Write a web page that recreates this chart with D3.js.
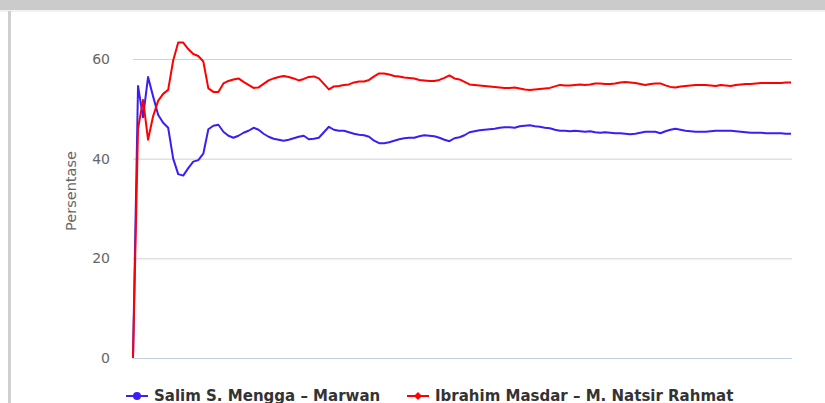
<!DOCTYPE html>
<meta charset="utf-8">
<head>
<title>Persentase</title>
<style>
  body { margin: 0; background: #fff; }
  .axis text { font: 14px "DejaVu Sans", Verdana, sans-serif; fill: #666; }
  .legend text { font: bold 15px "DejaVu Sans", Verdana, sans-serif; fill: #333; }
</style>
</head>
<body>
<script src="https://cdn.jsdelivr.net/npm/d3@7"></script>
<script>

// tick labels of the y axis
var yTicks = [0, 20, 40, 60];

var seriesNames = ["Salim S. Mengga \u2013 Marwan", "Ibrahim Masdar \u2013 M. Natsir Rahmat"];

// Salim S. Mengga - Marwan, percent per count step
var salim = [
  0, 54.6, 48.3, 56.4, 52.5, 48.8, 47.2, 46.2, 40.0, 36.9,
  36.6, 38.1, 39.4, 39.7, 41.0, 45.9, 46.6, 46.8, 45.4, 44.6,
  44.2, 44.6, 45.2, 45.6, 46.2, 45.8, 45.0, 44.4, 44.0, 43.8,
  43.6, 43.8, 44.1, 44.4, 44.6, 43.9, 44.0, 44.2, 45.3, 46.4,
  45.8, 45.6, 45.6, 45.3, 45.0, 44.8, 44.7, 44.4, 43.6, 43.1,
  43.1, 43.3, 43.6, 43.9, 44.1, 44.2, 44.2, 44.5, 44.7, 44.6,
  44.5, 44.2, 43.8, 43.5, 44.1, 44.3, 44.7, 45.3, 45.5, 45.7,
  45.8, 45.9, 46.0, 46.2, 46.3, 46.3, 46.2, 46.5, 46.6, 46.7,
  46.5, 46.4, 46.2, 46.1, 45.8, 45.6, 45.6, 45.5, 45.6, 45.5,
  45.4, 45.5, 45.3, 45.2, 45.3, 45.2, 45.1, 45.1, 45.0, 44.9,
  45.0, 45.2, 45.4, 45.4, 45.4, 45.1, 45.5, 45.8, 46.0, 45.8,
  45.6, 45.5, 45.4, 45.4, 45.4, 45.5, 45.6, 45.6, 45.6, 45.6,
  45.5, 45.4, 45.3, 45.2, 45.2, 45.2, 45.1, 45.1, 45.1, 45.1,
  45.0, 45.0
];

// Ibrahim Masdar - M. Natsir Rahmat
var ibrahim = [
  0, 46.0, 51.8, 43.8, 48.5, 51.6, 53.0, 53.8, 59.7, 63.3,
  63.3, 62.0, 61.0, 60.6, 59.5, 54.1, 53.4, 53.4, 55.1, 55.6,
  55.9, 56.1, 55.4, 54.8, 54.2, 54.3, 55.0, 55.7, 56.1, 56.4,
  56.6, 56.4, 56.1, 55.7, 56.0, 56.4, 56.5, 56.1, 55.0, 53.9,
  54.5, 54.6, 54.8, 54.9, 55.3, 55.5, 55.5, 55.8, 56.5, 57.1,
  57.1, 56.9, 56.6, 56.5, 56.3, 56.2, 56.1, 55.8, 55.7, 55.6,
  55.6, 55.8, 56.2, 56.7, 56.1, 55.9, 55.4, 54.9, 54.8, 54.7,
  54.6, 54.5, 54.4, 54.3, 54.2, 54.2, 54.3, 54.1, 53.9, 53.8,
  53.9, 54.0, 54.1, 54.2, 54.5, 54.8, 54.7, 54.7, 54.8, 54.9,
  54.8, 54.9, 55.1, 55.1, 55.0, 55.0, 55.1, 55.3, 55.4, 55.3,
  55.2, 55.0, 54.8, 55.0, 55.1, 55.1, 54.7, 54.4, 54.3, 54.5,
  54.6, 54.7, 54.8, 54.8, 54.8, 54.7, 54.6, 54.8, 54.7, 54.6,
  54.8, 54.9, 55.0, 55.0, 55.1, 55.2, 55.2, 55.2, 55.2, 55.2,
  55.3, 55.3
];

var colors = ["#3a1ff5", "#ff0000"];

var width = 825, height = 403;
var plotLeft = 133, plotRight = 792, plotTop = 59, plotBottom = 358;

var svg = d3.select("body").append("svg")
    .attr("width", width)
    .attr("height", height);

// page chrome: grey top band and left border
svg.append("rect").attr("x", 0).attr("y", 0).attr("width", width).attr("height", 10).attr("fill", "#cbcbcb");
svg.append("line").attr("x1", 0).attr("x2", width).attr("y1", 11).attr("y2", 11).attr("stroke", "#e4e4e4");
svg.append("rect").attr("x", 8).attr("y", 11).attr("width", 3).attr("height", height).attr("fill", "#cfcfcf");

var x = d3.scaleLinear()
    .domain([0, salim.length - 1])
    .range([plotLeft, plotRight - 1]);

var y = d3.scaleLinear()
    .domain([0, 60])
    .range([plotBottom, plotTop]);

var yAxis = d3.axisLeft(y)
    .tickValues(yTicks)
    .tickSize(-(plotRight - plotLeft))
    .tickPadding(23);

var gy = svg.append("g")
    .attr("class", "axis")
    .attr("transform", "translate(" + plotLeft + ",0)")
    .call(yAxis);
gy.select(".domain").remove();
gy.selectAll(".tick text").attr("font-family", null).attr("font-size", null);
gy.selectAll(".tick line").attr("stroke", "#d0d0d0");
gy.selectAll(".tick").filter(function(d) { return d === 0; }).select("line").attr("stroke", "#c0d0e0");

svg.append("text")
    .attr("transform", "translate(76,191) rotate(-90)")
    .attr("text-anchor", "middle")
    .style("font", "14.5px 'DejaVu Sans', Verdana, sans-serif")
    .style("fill", "#666")
    .text("Persentase");

var line = d3.line()
    .x(function(d, i) { return x(i); })
    .y(function(d) { return y(d); });

[salim, ibrahim].forEach(function(s, k) {
  svg.append("path")
      .datum(s)
      .attr("fill", "none")
      .attr("stroke", colors[k])
      .attr("stroke-width", 2)
      .attr("stroke-linejoin", "round")
      .attr("d", line);
});

// legend
var legend = svg.append("g").attr("class", "legend");
var legendX = [126, 407];
seriesNames.forEach(function(name, k) {
  var g = legend.append("g").attr("transform", "translate(" + legendX[k] + ",396)");
  g.append("line").attr("x1", 0).attr("x2", 22).attr("stroke", colors[k]).attr("stroke-width", 2);
  if (k === 0) {
    g.append("circle").attr("cx", 11).attr("r", 4).attr("fill", colors[k]);
  } else {
    g.append("path").attr("d", d3.symbol().type(d3.symbolDiamond2).size(40)).attr("transform", "translate(11,0)").attr("fill", colors[k]);
  }
  g.append("text").attr("x", 28).attr("y", 5).text(name);
});

</script>
</body>
